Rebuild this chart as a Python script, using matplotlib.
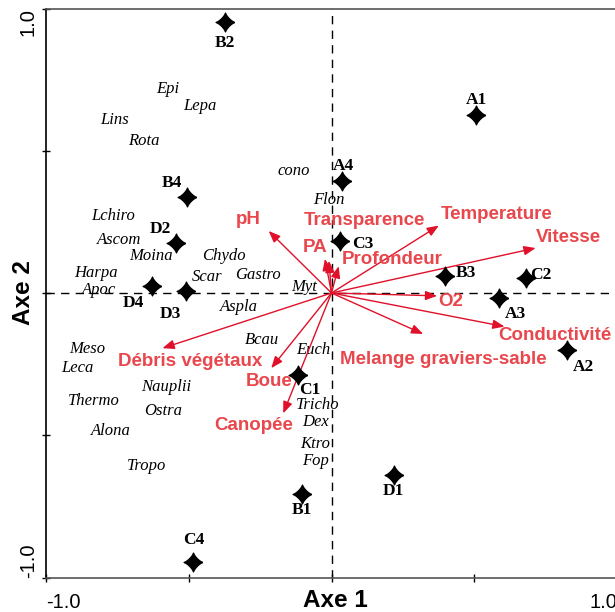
import numpy as np
import matplotlib
matplotlib.use("Agg")
import matplotlib.pyplot as plt
from matplotlib.path import Path

# --- Stationen (Sterne) ---
stationen = ["B2", "A1", "A4", "B4", "D2", "C3", "B3", "C2",
             "D4", "D3", "A3", "A2", "C1", "D1", "B1", "C4"]
station_x = [-0.373, 0.506, 0.037, -0.505, -0.543, 0.030, 0.396, 0.682,
             -0.630, -0.508, 0.588, 0.825, -0.117, 0.218, -0.103, -0.484]
station_y = [0.954, 0.624, 0.394, 0.337, 0.175, 0.182, 0.058, 0.052,
             0.026, 0.008, -0.018, -0.201, -0.289, -0.638, -0.708, -0.944]

# --- Taxa (kursiv) ---
taxa = ["Epi", "Lepa", "Lins", "Rota", "cono", "Flon", "Lchiro", "Ascom",
        "Moina", "Chydo", "Harpa", "Gastro", "Scar", "Apoc", "Myt", "Aspla",
        "Bcau", "Euch", "Meso", "Leca", "Nauplii", "Thermo", "Ostra", "Alona",
        "Tropo", "Tricho", "Dex", "Ktro", "Fop"]
taxa_x = [-0.575, -0.462, -0.760, -0.657, -0.134, -0.009, -0.766, -0.743,
          -0.632, -0.377, -0.824, -0.257, -0.435, -0.813, -0.095, -0.325,
          -0.243, -0.062, -0.856, -0.889, -0.579, -0.833, -0.591, -0.772,
          -0.649, -0.049, -0.056, -0.056, -0.056]
taxa_y = [0.716, 0.657, 0.607, 0.536, 0.428, 0.326, 0.272, 0.185,
          0.129, 0.131, 0.070, 0.064, 0.056, 0.012, 0.021, -0.049,
          -0.164, -0.200, -0.197, -0.264, -0.332, -0.378, -0.414, -0.485,
          -0.607, -0.395, -0.454, -0.531, -0.589]

# --- Umweltvariablen (Pfeile) ---
variablen = ["pH", "Transparence", "PA", "Profondeur", "Temperature", "Vitesse",
             "O2", "Conductivité", "Melange graviers-sable", "Débris végétaux",
             "Boue", "Canopée"]
var_x = [-0.220, -0.009, -0.023, 0.025, 0.376, 0.715,
         0.370, 0.606, 0.321, -0.592, -0.211, -0.169]
var_y = [0.218, 0.113, 0.120, 0.094, 0.237, 0.158,
         -0.010, -0.118, -0.144, -0.194, -0.264, -0.423]

# Beschriftungs-Versatz in Pixeln (Layout, keine Daten)
station_offset = {
    "B2": (0, -21), "A1": (0, 15), "A4": (1, 15), "B4": (-15, 14),
    "D2": (-16, 14), "C3": (23, -3), "B3": (21, 3), "C2": (15, 3),
    "D4": (-18, -17), "D3": (-16, -23), "A3": (16, -16), "A2": (16, -17),
    "C1": (12, -15), "D1": (0, -16), "B1": (0, -16), "C4": (0, 22),
}
var_offset = {
    "pH": (-20, 11), "Transparence": (36, 40), "PA": (-10, 11),
    "Profondeur": (54, 7), "Temperature": (58, 11), "Vitesse": (33, 11),
    "O2": (14, -6), "Conductivité": (50, -9),
    "Melange graviers-sable": (20, -26), "Débris végétaux": (28, -13),
    "Boue": (-2, -13), "Canopée": (-30, -12),
}

ROT_PFEIL = "#e0102a"
ROT_TEXT = "#e8474d"

# vierzackiger Stern als Marker
t = np.linspace(0, 2 * np.pi, 121)
c, s = np.cos(t), np.sin(t)
stern = Path(np.column_stack([np.sign(c) * np.abs(c) ** 2.6,
                              np.sign(s) * np.abs(s) ** 2.6]))

fig = plt.figure(figsize=(6.15, 6.12), dpi=100)
ax = fig.add_axes([46 / 615, 34.5 / 612, 571 / 615, 569 / 612])
ax.set_xlim(-1.0, 1.0)
ax.set_ylim(-1.0, 1.0)

ax.axhline(0, color="black", lw=1, dashes=(6, 4.5), zorder=1)
ax.axvline(0, color="black", lw=1, dashes=(6, 4.5), zorder=1)

# Pfeile
for name, x, y in zip(variablen, var_x, var_y):
    ax.annotate("", xy=(x, y), xytext=(0, 0),
                arrowprops=dict(arrowstyle="-|>,head_length=0.7,head_width=0.28",
                                color=ROT_PFEIL, lw=1.0, mutation_scale=10,
                                shrinkA=0, shrinkB=0), zorder=3)
    dx, dy = var_offset[name]
    ax.annotate(name, xy=(x, y), xytext=(dx, dy), textcoords="offset pixels",
                ha="center", va="center", color=ROT_TEXT, fontsize=13.5,
                fontweight="bold", family="Liberation Sans", zorder=4)

# Taxa
for name, x, y in zip(taxa, taxa_x, taxa_y):
    ax.text(x, y, name, ha="center", va="center", fontsize=12,
            style="italic", family="Liberation Serif", zorder=2)

# Stationen
ax.plot(station_x, station_y, linestyle="none", marker=stern,
        markersize=13.5, color="black", zorder=5)
for name, x, y in zip(stationen, station_x, station_y):
    dx, dy = station_offset[name]
    ax.annotate(name, xy=(x, y), xytext=(dx, dy), textcoords="offset pixels",
                ha="center", va="center", fontsize=12.5, fontweight="bold",
                family="Liberation Serif", zorder=5)

# Achsen
ax.spines["right"].set_visible(False)
ax.spines["top"].set_color("#555555")
ax.spines["bottom"].set_color("#555555")
ax.spines["left"].set_color("black")
for sp in ax.spines.values():
    sp.set_linewidth(1.2)

ax.set_xticks([-1.0, -0.5, 0.0, 0.5, 1.0])
ax.set_yticks([-1.0, -0.5, 0.0, 0.5, 1.0])
ax.tick_params(direction="inout", length=6, width=1)
ax.tick_params(axis="x", pad=8)
ax.tick_params(axis="y", pad=3)
xl = ax.set_xticklabels(["-1.0", "", "", "", "1.0"], fontsize=14.5,
                        family="Liberation Sans")
yl = ax.set_yticklabels(["-1.0", "", "", "", "1.0"], fontsize=14.5,
                        family="Liberation Sans", rotation=90)
xl[0].set_ha("left")
xl[-1].set_ha("right")
yl[0].set_va("bottom")
yl[-1].set_va("top")

ax.set_xlabel("Axe 1", fontsize=17.5, fontweight="bold", family="Liberation Sans")
ax.set_ylabel("Axe 2", fontsize=17.5, fontweight="bold", family="Liberation Sans")
ax.xaxis.set_label_coords((335 - 46) / 571, -0.021)
ax.yaxis.set_label_coords(-0.019, 0.5)

fig.savefig("out.png", dpi=100)
